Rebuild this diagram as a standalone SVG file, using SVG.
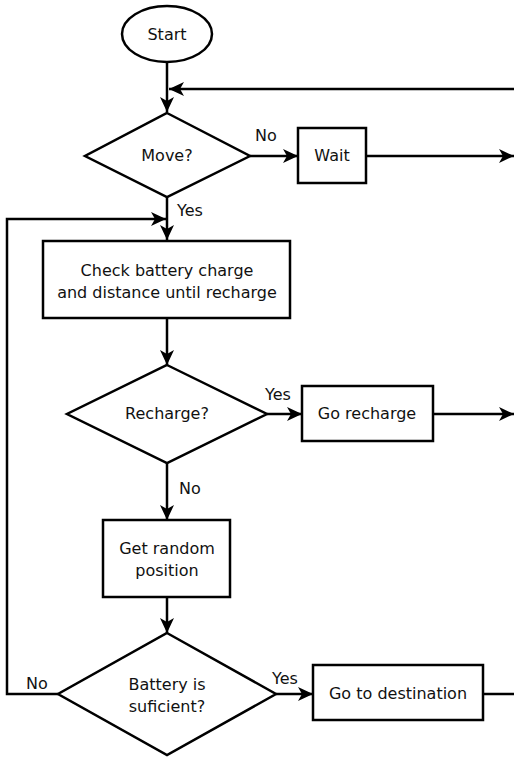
<svg xmlns="http://www.w3.org/2000/svg" width="514" height="760" viewBox="0 0 514 760">
<defs>
<style>
.s{fill:#fff;stroke:#000;stroke-width:2.5}
.c{fill:none;stroke:#000;stroke-width:2.5}
text{font-family:"DejaVu Sans",Verdana,sans-serif;font-size:16px;fill:#111}
.m{text-anchor:middle}
</style>
<marker id="a" viewBox="0 0 15 14" refX="15" refY="7" markerWidth="15" markerHeight="14" markerUnits="userSpaceOnUse" orient="auto">
<path d="M0,0 L15,7 L0,14 L4,7 Z" fill="#000"/>
</marker>
</defs>
<rect width="514" height="760" fill="#fff"/>
<g id="connectors">
<line class="c" x1="167" y1="62" x2="167" y2="112" marker-end="url(#a)"/>
<line class="c" x1="514" y1="89" x2="169" y2="89" marker-end="url(#a)"/>
<line class="c" x1="250" y1="156" x2="298" y2="156" marker-end="url(#a)"/>
<line class="c" x1="366" y1="156" x2="514" y2="156" marker-end="url(#a)"/>
<line class="c" x1="167" y1="197" x2="167" y2="240" marker-end="url(#a)"/>
<polyline class="c" points="58,694 7,694 7,219 166,219" marker-end="url(#a)"/>
<line class="c" x1="167" y1="318" x2="167" y2="365" marker-end="url(#a)"/>
<line class="c" x1="267" y1="414" x2="302" y2="414" marker-end="url(#a)"/>
<line class="c" x1="433" y1="414" x2="514" y2="414" marker-end="url(#a)"/>
<line class="c" x1="167" y1="463" x2="167" y2="520" marker-end="url(#a)"/>
<line class="c" x1="167" y1="597" x2="167" y2="633" marker-end="url(#a)"/>
<line class="c" x1="276" y1="694" x2="313" y2="694" marker-end="url(#a)"/>
<line class="c" x1="483" y1="694" x2="514" y2="694"/>
<text x="255" y="141">No</text>
<text x="177" y="216">Yes</text>
<text x="265" y="400">Yes</text>
<text x="179" y="494">No</text>
<text x="26" y="689">No</text>
<text x="272" y="684">Yes</text>
</g>
<g id="start">
<ellipse class="s" cx="167" cy="34" rx="45" ry="28"/>
<text class="m" x="167" y="40">Start</text>
</g>
<g id="move">
<polygon class="s" points="167,113 250,156 167,197 85,156"/>
<text class="m" x="167" y="161">Move?</text>
</g>
<g id="wait">
<rect class="s" x="298" y="128" width="68" height="55"/>
<text class="m" x="332" y="161">Wait</text>
</g>
<g id="check">
<rect class="s" x="43" y="241" width="247" height="77"/>
<text class="m" x="167" y="276">Check battery charge</text>
<text class="m" x="167" y="298">and distance until recharge</text>
</g>
<g id="recharge">
<polygon class="s" points="167,365 267,414 167,463 67,414"/>
<text class="m" x="167" y="419">Recharge?</text>
</g>
<g id="gorecharge">
<rect class="s" x="302" y="386" width="131" height="55"/>
<text class="m" x="367" y="419">Go recharge</text>
</g>
<g id="random">
<rect class="s" x="103" y="520" width="127" height="77"/>
<text class="m" x="167" y="554">Get random</text>
<text class="m" x="167" y="576">position</text>
</g>
<g id="battery">
<polygon class="s" points="167,633 276,694 167,755 58,694"/>
<text class="m" x="167" y="690">Battery is</text>
<text class="m" x="167" y="712">suficient?</text>
</g>
<g id="godest">
<rect class="s" x="313" y="665" width="170" height="55"/>
<text class="m" x="398" y="699">Go to destination</text>
</g>
</svg>
